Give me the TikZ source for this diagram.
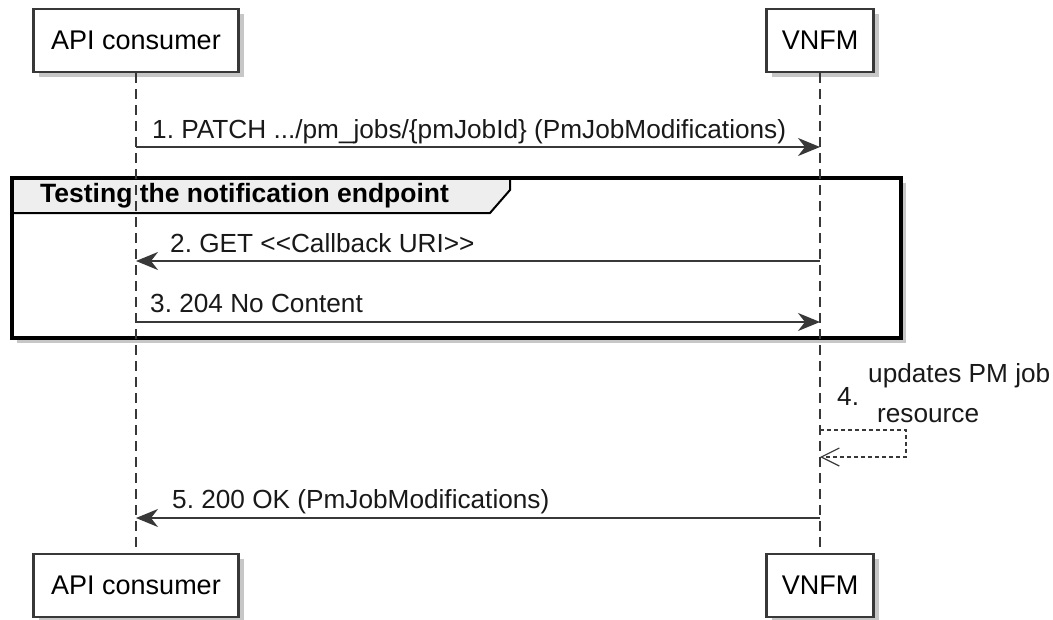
\documentclass[tikz,border=0pt]{standalone}
\usepackage{fontspec}
\setmainfont{Liberation Sans}[Ligatures=TeXOff]
\usetikzlibrary{arrows.meta,shadows}
\frenchspacing

\definecolor{umlline}{HTML}{383838}
\definecolor{tabgray}{HTML}{EEEEEE}

\tikzset{
    boxshadow/.style={general shadow={shadow xshift=5pt,shadow yshift=-5pt,fill=black!22,draw=none,opacity=1}},
    participant/.style={draw=umlline, line width=2.4pt, fill=white, minimum height=63pt, inner xsep=0pt,
        font=\fontsize{27}{32}\selectfont, boxshadow},
    lifeline/.style={draw=umlline, line width=1.3pt, dash pattern=on 10pt off 6pt},
    msg/.style={draw=umlline, line width=2pt, -{Stealth[length=22pt,width=18pt,inset=7pt]}},
    selfmsg/.style={draw=umlline, line width=1.2pt, dash pattern=on 4pt off 3pt, -{Straight Barb[length=18pt,width=18pt]}},
    msglabel/.style={anchor=base west, inner sep=0pt, text=black!90, font=\fontsize{26.2}{31}\selectfont},
    grouptab/.style={draw=black, line width=2pt, fill=tabgray},
}

\begin{document}
\begin{tikzpicture}[x=1pt,y=-1pt]
    \useasboundingbox (0,0) rectangle (1053,619);

    % group frame
    \fill[black!22] (17,183) rectangle (906,343);
    \fill[white] (12,178) rectangle (901,338);
    \draw[grouptab] (12,178) -- (510,178) -- (510,190) -- (490,213) -- (12,213) -- cycle;
    \draw[line width=4pt] (12,178) rectangle (901,338);
    \node[anchor=west, inner sep=0pt, font=\fontsize{26.5}{31}\selectfont\bfseries] (groupTitle) at (40,196) {Testing the notification endpoint};

    \node[participant, minimum width=205pt] (consumerTop) at (136,40.5) {API consumer};
    \node[participant, minimum width=107pt] (vnfmTop) at (820,40.5) {VNFM};
    \node[participant, minimum width=205pt] (consumerBot) at (136,585.5) {API consumer};
    \node[participant, minimum width=107pt] (vnfmBot) at (820,585.5) {VNFM};

    \draw[lifeline] (consumerTop) -- (consumerBot);
    \draw[lifeline] (vnfmTop) -- (vnfmBot);

    \draw[msg] (consumerTop.south |- 0,147) -- (vnfmTop.south |- 0,147);
    \node[msglabel] (m1) at (152,138) {1. PATCH .../pm\_jobs/\{pmJobId\} (PmJobModifications)};

    \draw[msg] (vnfmTop.south |- 0,261) -- (consumerTop.south |- 0,261);
    \node[msglabel] (m2) at (170,252) {2. GET <<Callback URI>>};

    \draw[msg] (consumerTop.south |- 0,322) -- (vnfmTop.south |- 0,322);
    \node[msglabel] (m3) at (150,312) {3. 204 No Content};

    \draw[selfmsg] (vnfmTop.south |- 0,430) -- ++(86,0) -- ++(0,27) -- (vnfmTop.south |- 0,457);
    \node[msglabel] (m4num) at (837,405) {4.};
    \node[msglabel] (m4a) at (868,382) {updates PM job};
    \node[msglabel] (m4b) at (877,422) {resource};

    \draw[msg] (vnfmTop.south |- 0,518) -- (consumerTop.south |- 0,518);
    \node[msglabel] (m5) at (172,508) {5. 200 OK (PmJobModifications)};
\end{tikzpicture}
\end{document}
